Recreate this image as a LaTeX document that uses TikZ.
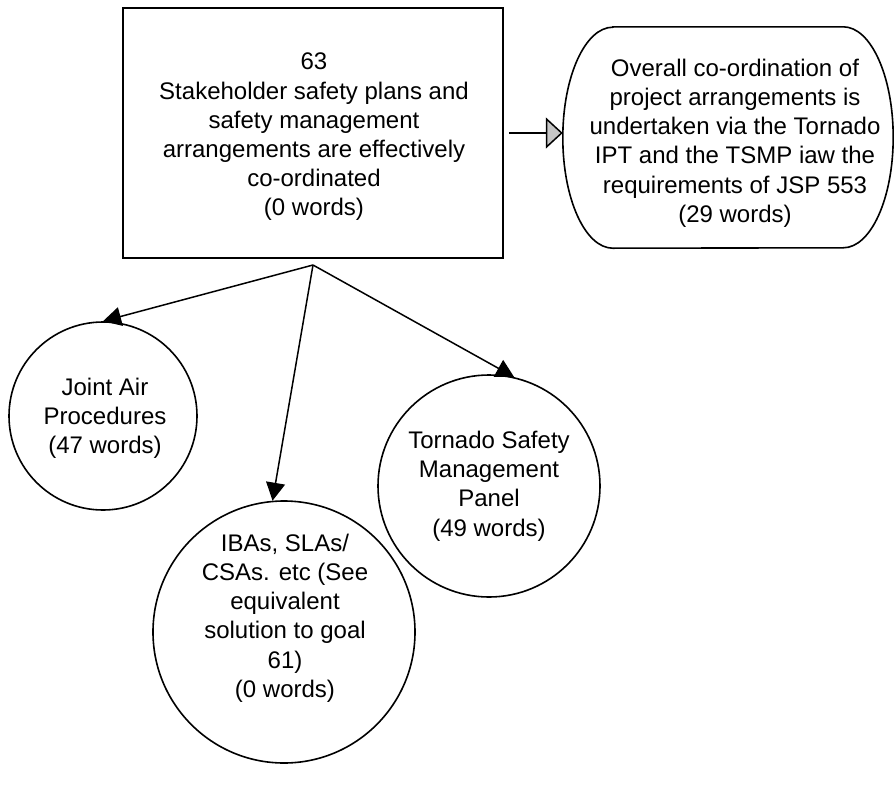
\documentclass[tikz,border=0pt]{standalone}
\usepackage{fontspec}
\setmainfont{Liberation Sans}
\usetikzlibrary{arrows.meta}

\tikzset{
  goalbox/.style={draw, line width=1.6pt, rectangle, minimum width=380pt, minimum height=250pt, inner sep=0pt},
  solcircle/.style={draw, line width=1.6pt, circle, inner sep=0pt},
  txt/.style={align=center, inner sep=0pt},
  supports/.style={line width=1.5pt, -{Triangle[length=18pt, width=19pt]}},
  incontext/.style={line width=1.5pt, -{Triangle[length=17pt, width=31pt, fill=gray!45]}}
}

\begin{document}
\begin{tikzpicture}[x=1pt, y=-1pt, font=\fontsize{24}{29.2}\selectfont]
\useasboundingbox (0,0) rectangle (894,787);
%TOP
\node[goalbox] (goal) at (313,133) {};
\node[txt] (goaltxt) at (314,137) {63\\Stakeholder safety plans and\\safety management\\arrangements are effectively\\co-ordinated\\(0 words)};
\node[minimum width=330pt, minimum height=221pt, inner sep=0pt] (ctx) at (728,137.5) {};
\node[txt] (ctxtxt) at (735,143) {Overall co-ordination of\\project arrangements is\\undertaken via the Tornado\\IPT and the TSMP iaw the\\requirements of JSP 553\\(29 words)};
\draw[line width=1.6pt] ([xshift=50pt]ctx.north west) -- ([xshift=-50pt]ctx.north east)
  arc[start angle=90, end angle=-90, x radius=50pt, y radius=110.5pt]
  -- ([xshift=50pt]ctx.south west)
  arc[start angle=270, end angle=90, x radius=50pt, y radius=110.5pt] -- cycle;
\draw[incontext, shorten <=5pt] (goal.east) -- (goal.east -| ctx.west);
%BOT
\node[solcircle, minimum size=188pt] (jap) at (103,416) {};
\node[txt] (japtxt) at (105,418) {Joint Air\\Procedures\\(47 words)};
\node[solcircle, minimum size=262pt] (iba) at (284,632) {};
\node[txt] (ibatxt) at (285,618) {IBAs, SLAs/\\CSAs. etc (See\\equivalent\\solution to goal\\61)\\(0 words)};
\node[solcircle, minimum size=222pt] (tsmp) at (489,486) {};
\node[txt] (tsmptxt) at (489,486) {Tornado Safety\\Management\\Panel\\(49 words)};
% Fork
\coordinate (fork) at (313,265);
\draw[supports] (fork) -- (jap.north);
\draw[supports] (fork) -- (iba.95);
\draw[supports] (fork) -- (tsmp.77);
\end{tikzpicture}
\end{document}
